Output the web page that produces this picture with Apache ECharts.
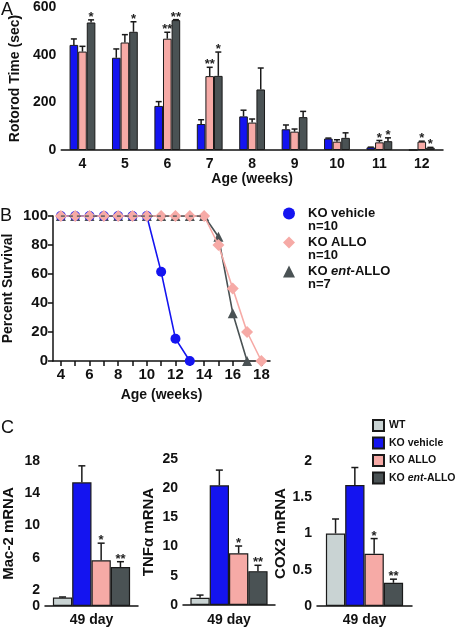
<!DOCTYPE html>
<html><head><meta charset="utf-8">
<script src="https://cdn.jsdelivr.net/npm/echarts@6/dist/echarts.min.js"></script>
<style>html,body{margin:0;padding:0;background:#fff}#c{width:455px;height:628px}</style>
</head><body><div id="c"></div>
<script>
const FONT = '"Liberation Sans", Arial, Helvetica, sans-serif';

// ---------- Panel A: rotorod ----------
const ageWeeksA = ['4','5','6','7','8','9','10','11','12'];
const rotVehicle    = [441, 387, 185, 109, 141,  87, 48, 11,  0];
const rotVehicleErr = [466, 424, 203, 127, 167, 105, 50, 12,  0];
const rotAllo       = [413, 451, 467, 310, 115,  77, 35, 32, 35];
const rotAlloErr    = [435, 484, 494, 347, 130,  88, 43, 40, 37];
const rotEnt        = [535, 496, 545, 311, 254, 138, 51, 37, 10];
const rotEntErr     = [546, 538, 547, 411, 344, 162, 72, 51, 11];
const sigVehicle = ['', '', '', '', '', '', '', '', ''];
const sigAllo    = ['', '', '**', '**', '', '', '', '*', '*'];
const sigEnt     = ['*', '*', '**', '*', '', '', '', '*', '*'];

// ---------- Panel B: survival ----------
const survWeeks   = [4, 5, 6, 7, 8, 9, 10, 11, 12, 13, 14, 15, 16, 17, 18];
const survVehicle = [100, 100, 100, 100, 100, 100, 100, 61.5, 15.4, 0];
const survAllo    = [100, 100, 100, 100, 100, 100, 100, 100, 100, 100, 100, 80, 50, 20, 0];
const survEnt     = [100, 100, 100, 100, 100, 100, 100, 100, 100, 100, 100, 85.7, 33, 0];
const survNames   = ['KO vehicle', 'KO ALLO', 'KO ent-ALLO'];
const survN       = [10, 10, 7];
const survTickWeeks  = [4, 5, 6, 7, 8, 9, 10, 11, 12, 13, 14, 15, 16, 17, 18];
const survLabelWeeks = [4, 6, 8, 10, 12, 14, 16, 18];

// ---------- Panel C: mRNA ----------
const cGroups   = ['WT', 'KO vehicle', 'KO ALLO', 'KO ent-ALLO'];
const cCategory = ['49 day'];
const mac2      = [1.05, 15.35, 5.67, 4.84];
const mac2Err   = [1.12, 17.4, 7.8, 5.5];
const mac2Ticks = [0, 2, 6, 10, 14, 18];
const tnf       = [1.25, 20.5, 8.85, 5.8];
const tnfErr    = [1.7, 23.1, 10.1, 6.8];
const cox2      = [1.0, 1.67, 0.72, 0.32];
const cox2Err   = [1.2, 1.91, 0.93, 0.37];
const cSig      = ['', '', '*', '**'];

const COL_BLUE = '#1414f0', COL_PINK = '#f6aaa6', COL_GREY = '#4a5254', COL_WT = '#c9d3d3';
const cColors = [COL_WT, COL_BLUE, COL_PINK, COL_GREY];
const INK = '#111';

function axLine() { return { lineStyle: { color: INK, width: 1.5 } }; }
function axTick(extra) { return Object.assign({ length: 5, lineStyle: { color: INK, width: 1.5 } }, extra || {}); }
function axLab(size, extra) { return Object.assign({ color: INK, fontWeight: 'bold', fontSize: size, fontFamily: FONT, margin: 5 }, extra || {}); }
function nameStyle(size) { return { color: INK, fontWeight: 'bold', fontSize: size, fontFamily: FONT }; }

function errSeries(xi, yi, rows, nBars, barW, sigs, capW) {
  return {
    type: 'custom', xAxisIndex: xi, yAxisIndex: yi, z: 5, silent: true,
    data: rows,
    renderItem: function (params, api) {
      const i = params.dataIndex;
      const cat = api.value(0), v = api.value(1), e = api.value(2), b = api.value(3);
      const base = api.coord([cat, v]);
      const top = api.coord([cat, e]);
      const x = base[0] + (b - (nBars - 1) / 2) * barW;
      const ch = [];
      if (e > v + 1e-9) {
        ch.push({ type: 'line', shape: { x1: x, y1: base[1], x2: x, y2: top[1] }, style: { stroke: '#1a1a1a', lineWidth: 1.5 } });
        ch.push({ type: 'line', shape: { x1: x - capW, y1: top[1], x2: x + capW, y2: top[1] }, style: { stroke: '#1a1a1a', lineWidth: 1.5 } });
      }
      const s = sigs[i];
      if (s) {
        ch.push({ type: 'text', x: x, y: Math.min(top[1], base[1]) + 4,
          style: { text: s, align: 'center', verticalAlign: 'bottom', fill: '#222', fontSize: 13, fontWeight: 'bold', fontFamily: FONT } });
      }
      return { type: 'group', children: ch };
    }
  };
}

const series = [];
// Panel A bars
const barWA = 8.6;
[[rotVehicle, COL_BLUE, 'A vehicle'], [rotAllo, COL_PINK, 'A allo'], [rotEnt, COL_GREY, 'A ent']].forEach(function (d) {
  series.push({ type: 'bar', name: d[2], xAxisIndex: 0, yAxisIndex: 0, data: d[0], barWidth: barWA, barGap: '0%',
    itemStyle: { color: d[1], borderColor: '#1a1a1a', borderWidth: 1 }, silent: true });
});
[[rotVehicle, rotVehicleErr, sigVehicle], [rotAllo, rotAlloErr, sigAllo], [rotEnt, rotEntErr, sigEnt]].forEach(function (d, b) {
  series.push(errSeries(0, 0, d[0].map(function (v, i) { return [i, v, d[1][i], b]; }), 3, barWA, d[2], 3));
});

// Panel B lines
function pairs(vals) { return vals.map(function (v, i) { return [survWeeks[i], v]; }); }
series.push({ type: 'line', name: 'KO ent-ALLO', xAxisIndex: 1, yAxisIndex: 1, data: pairs(survEnt), symbol: 'triangle', symbolSize: 10,
  itemStyle: { color: COL_GREY }, lineStyle: { color: COL_GREY, width: 1.6 }, z: 2, silent: true });
series.push({ type: 'line', name: 'KO vehicle', xAxisIndex: 1, yAxisIndex: 1, data: pairs(survVehicle), symbol: 'circle', symbolSize: 10,
  itemStyle: { color: COL_BLUE }, lineStyle: { color: COL_BLUE, width: 1.6 }, z: 3, silent: true });
series.push({ type: 'line', name: 'KO ALLO', xAxisIndex: 1, yAxisIndex: 1, data: pairs(survAllo), symbol: 'diamond', symbolSize: 12,
  itemStyle: { color: COL_PINK }, lineStyle: { color: COL_PINK, width: 1.6 }, z: 4, silent: true });
series.push({ type: 'line', name: 'ent plateau', xAxisIndex: 1, yAxisIndex: 1, data: pairs(survEnt.slice(0, 11)), symbol: 'none',
  lineStyle: { color: COL_GREY, width: 1.6, type: [4, 4] }, z: 5, silent: true });

// Panel C bars
const barWC = 19.3;
[[mac2, mac2Err], [tnf, tnfErr], [cox2, cox2Err]].forEach(function (d, p) {
  const ax = 2 + p;
  cGroups.forEach(function (g, b) {
    series.push({ type: 'bar', name: 'c_' + g, xAxisIndex: ax, yAxisIndex: ax, data: [d[0][b]], barWidth: barWC, barGap: '0%',
      itemStyle: { color: cColors[b], borderColor: '#1a1a1a', borderWidth: 1.2 }, silent: true });
  });
  series.push(errSeries(ax, ax, d[0].map(function (v, b) { return [0, v, d[1][b], b]; }), 4, barWC, cSig, 3.5));
});

const bLegendText = {};
survNames.forEach(function (n, i) {
  const label = n === 'KO ent-ALLO' ? '{p|KO }{i|ent}{b|-ALLO}' : '{p|' + n + '}';
  bLegendText[n] = '{e| }\n' + label + '\n{p|n=' + survN[i] + '}';
});

const bRich = {
  e: { fontSize: 13, lineHeight: 13 },
  p: { fontSize: 13, lineHeight: 13, fontWeight: 'bold', color: INK, fontFamily: FONT, padding: [0, 0, 0, 8] },
  b: { fontSize: 13, lineHeight: 13, fontWeight: 'bold', color: INK, fontFamily: FONT },
  i: { fontSize: 13, lineHeight: 13, fontWeight: 'bold', fontStyle: 'italic', color: INK, fontFamily: FONT }
};

const option = {
  animation: false,
  backgroundColor: '#fff',
  textStyle: { fontFamily: FONT },
  grid: [
    { left: 53, top: 5, width: 390, height: 145 },
    { left: 53, top: 216, width: 217, height: 145 },
    { left: 45, top: 461, width: 93, height: 145 },
    { left: 183, top: 459, width: 92, height: 146 },
    { left: 317, top: 461, width: 95, height: 145 }
  ],
  xAxis: [
    { type: 'category', gridIndex: 0, data: ageWeeksA, axisLine: axLine(), axisTick: axTick(), axisLabel: axLab(14, { margin: 7 }),
      name: 'Age (weeks)', nameLocation: 'middle', nameGap: 22, nameTextStyle: nameStyle(14) },
    { type: 'value', gridIndex: 1, min: 3.45, max: 18.6, splitLine: { show: false }, axisLine: axLine(),
      axisTick: axTick({ customValues: survTickWeeks }), axisLabel: axLab(15, { customValues: survLabelWeeks, margin: 6 }),
      name: 'Age (weeks)', nameLocation: 'middle', nameGap: 27, nameTextStyle: nameStyle(14) },
    { type: 'category', gridIndex: 2, data: cCategory, axisLine: axLine(), axisTick: axTick(), axisLabel: axLab(14, { margin: 7 }) },
    { type: 'category', gridIndex: 3, data: cCategory, axisLine: axLine(), axisTick: axTick(), axisLabel: axLab(14, { margin: 8 }) },
    { type: 'category', gridIndex: 4, data: cCategory, axisLine: axLine(), axisTick: axTick(), axisLabel: axLab(14, { margin: 7 }) }
  ],
  yAxis: [
    { type: 'value', gridIndex: 0, min: 0, max: 600, interval: 200, splitLine: { show: false }, axisLine: axLine(), axisTick: axTick(),
      axisLabel: axLab(14), name: 'Rotorod Time (sec)', nameLocation: 'middle', nameGap: 38, nameTextStyle: nameStyle(14) },
    { type: 'value', gridIndex: 1, min: 0, max: 100, interval: 20, splitLine: { show: false }, axisLine: axLine(), axisTick: axTick(),
      axisLabel: axLab(15), name: 'Percent Survival', nameLocation: 'middle', nameGap: 38, nameTextStyle: nameStyle(14) },
    { type: 'value', gridIndex: 2, min: 0, max: 18, splitLine: { show: false }, axisLine: axLine(),
      axisTick: axTick({ customValues: mac2Ticks }), axisLabel: axLab(14, { customValues: mac2Ticks }),
      name: 'Mac-2 mRNA', nameLocation: 'middle', nameGap: 29, nameTextStyle: nameStyle(15) },
    { type: 'value', gridIndex: 3, min: 0, max: 25, interval: 5, splitLine: { show: false }, axisLine: axLine(), axisTick: axTick(),
      axisLabel: axLab(14), name: 'TNF\u03b1 mRNA', nameLocation: 'middle', nameGap: 27, nameTextStyle: nameStyle(15) },
    { type: 'value', gridIndex: 4, min: 0, max: 2, interval: 0.5, splitLine: { show: false }, axisLine: axLine(), axisTick: axTick(),
      axisLabel: axLab(14), name: 'COX2 mRNA', nameLocation: 'middle', nameGap: 20, nameTextStyle: nameStyle(15) }
  ],
  legend: [
    { data: [{ name: 'KO vehicle', icon: 'circle' }, { name: 'KO ALLO', icon: 'diamond' }, { name: 'KO ent-ALLO', icon: 'triangle' }],
      orient: 'vertical', left: 283, top: 194, padding: 0, itemWidth: 12, itemHeight: 12, itemGap: -10, selectedMode: false,
      formatter: function (n) { return bLegendText[n]; },
      textStyle: { fontFamily: FONT, fontSize: 13, fontWeight: 'bold', rich: bRich } },
    { data: cGroups.map(function (g) { return { name: 'c_' + g, icon: 'rect' }; }),
      orient: 'vertical', left: 372, top: 419, padding: 0, itemWidth: 11, itemHeight: 11, itemGap: 4.5, selectedMode: false,
      formatter: function (n) { const g = n.slice(2); return g === 'KO ent-ALLO' ? '{b|KO }{i|ent}{b|-ALLO}' : '{b|' + g + '}'; },
      textStyle: { fontFamily: FONT, fontSize: 10.5, fontWeight: 'bold', rich: {
        b: { fontSize: 10.5, fontWeight: 'bold', color: INK, fontFamily: FONT },
        i: { fontSize: 10.5, fontWeight: 'bold', fontStyle: 'italic', color: INK, fontFamily: FONT } } } }
  ],
  graphic: [
    { type: 'text', left: 1, top: 1.5, style: { text: 'A', fontSize: 18, fontFamily: FONT, fill: INK } },
    { type: 'text', left: 0, top: 207.5, style: { text: 'B', fontSize: 18, fontFamily: FONT, fill: INK } },
    { type: 'text', left: 1, top: 419.5, style: { text: 'C', fontSize: 18, fontFamily: FONT, fill: INK } }
  ],
  series: series
};

const chart = echarts.init(document.getElementById('c'), null, { renderer: 'canvas' });
chart.setOption(option);
</script>
</body></html>
